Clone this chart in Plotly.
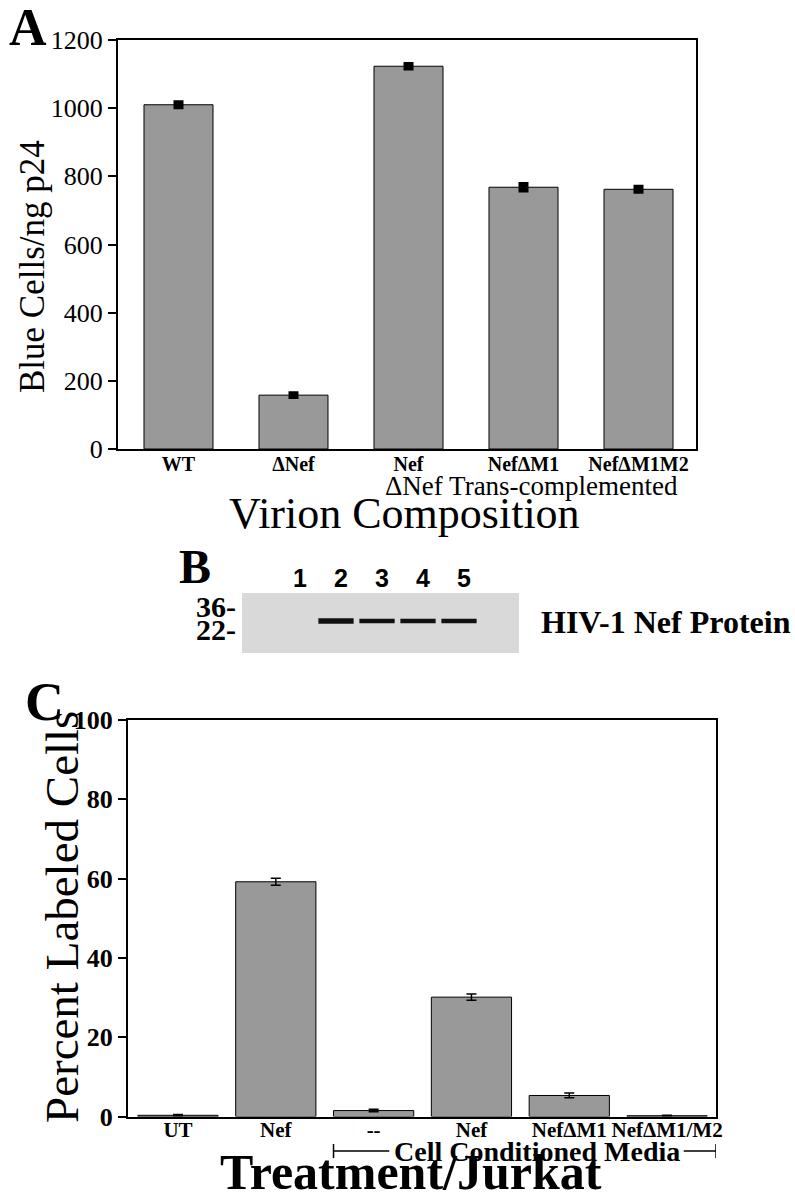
import plotly.graph_objects as go

W, H = 795, 1199
SERIF = "Liberation Serif"
SANS = "Liberation Sans"

# ---- Panel A data ----
a_labels = ["WT", "ΔNef", "Nef", "NefΔM1", "NefΔM1M2"]
a_values = [1010, 158, 1123, 768, 762]
a_errors = [6, 4, 5, 8, 6]
a_yticks = [0, 200, 400, 600, 800, 1000, 1200]

# ---- Panel B data (western blot) ----
b_lanes = [1, 2, 3, 4, 5]
b_lane_labels = ["1", "2", "3", "4", "5"]
b_band_present = [0, 1, 1, 1, 1]
b_band_kda = [27.5, 27.5, 27.5, 27.5, 27.5]
b_band_width = [5, 5.5, 4.5, 4.5, 4.5]
b_markers = [36, 22]
b_marker_labels = ["36-", "22-"]

# ---- Panel C data ----
c_labels = ["UT", "Nef", "--", "Nef", "NefΔM1", "NefΔM1/M2"]
c_values = [0.3, 59.2, 1.5, 30.1, 5.3, 0.2]
c_errors = [0.2, 0.9, 0.3, 0.8, 0.6, 0.1]
c_yticks = [0, 20, 40, 60, 80, 100]


def px(x):
    return x / W


def py(y):
    return 1 - y / H


fig = go.Figure()

# Panel A bars
fig.add_trace(go.Bar(
    x=list(range(len(a_labels))), y=a_values, width=0.6,
    marker=dict(color="#999999", line=dict(color="black", width=1)),
    error_y=dict(type="data", array=a_errors, visible=True, color="black",
                 thickness=5, width=5),
    xaxis="x", yaxis="y", showlegend=False,
))

# Panel C bars
fig.add_trace(go.Bar(
    x=list(range(len(c_labels))), y=c_values, width=0.82,
    marker=dict(color="#999999", line=dict(color="black", width=1)),
    error_y=dict(type="data", array=c_errors, visible=True, color="black",
                 thickness=1.5, width=5),
    xaxis="x2", yaxis="y2", showlegend=False,
))

# Panel B bands
for lane, present, kda, bw in zip(b_lanes, b_band_present, b_band_kda, b_band_width):
    if present:
        fig.add_trace(go.Scatter(
            x=[lane - 0.43, lane + 0.43], y=[kda, kda], mode="lines",
            line=dict(color="#111111", width=bw),
            xaxis="x3", yaxis="y3", showlegend=False, hoverinfo="skip",
        ))

axis_font = dict(family=SERIF, size=26, color="black")
common = dict(showgrid=False, zeroline=False, fixedrange=True, automargin=False)

fig.update_layout(
    template="none",
    width=W, height=H,
    margin=dict(l=0, r=0, t=0, b=0, pad=0),
    paper_bgcolor="white", plot_bgcolor="white",
    bargap=0, showlegend=False,
    xaxis=dict(
        domain=[px(118), px(696)], range=[-0.526, 4.5], anchor="y",
        tickvals=list(range(len(a_labels))), ticktext=a_labels,
        tickfont=dict(family=SERIF, size=20, color="black", weight="bold"),
        showline=True, linecolor="black", linewidth=2, mirror=True,
        ticks="", tickangle=0, ticklabelstandoff=-4, **common,
    ),
    yaxis=dict(
        domain=[py(449), py(40)], range=[0, 1200], anchor="x",
        tickvals=a_yticks, tickfont=axis_font,
        showline=True, linecolor="black", linewidth=2, mirror=True,
        ticks="outside", ticklen=8, tickwidth=2, tickcolor="black",
        **common,
    ),
    xaxis2=dict(
        domain=[px(128), px(716)], range=[-0.511, 5.5], anchor="y2",
        tickvals=list(range(len(c_labels))), ticktext=c_labels,
        tickfont=dict(family=SERIF, size=21, color="black", weight="bold"),
        showline=True, linecolor="black", linewidth=2, mirror=True,
        ticks="", tickangle=0, ticklabelstandoff=-7, **common,
    ),
    yaxis2=dict(
        domain=[py(1116.5), py(720)], range=[0, 100], anchor="x2",
        tickvals=c_yticks,
        tickfont=dict(family=SERIF, size=26, color="black", weight="bold"),
        showline=True, linecolor="black", linewidth=2, mirror=True,
        ticks="outside", ticklen=8, tickwidth=2, tickcolor="black",
        **common,
    ),
    xaxis3=dict(
        domain=[px(242), px(519)], range=[-0.293, 6.463],
        side="top", tickvals=b_lanes, ticktext=b_lane_labels,
        tickfont=dict(family=SANS, size=25, color="black", weight="bold"),
        ticks="", showline=False, tickangle=0,
        ticklabelstandoff=0, ticklabelshift=5, anchor="y3", **common,
    ),
    yaxis3=dict(
        domain=[py(653), py(593)], range=[8, 44.5],
        tickvals=b_markers, ticktext=b_marker_labels,
        tickfont=dict(family=SERIF, size=30, color="black", weight="bold"),
        ticks="", showline=False,
        ticklabelstandoff=5, anchor="x3", **common,
    ),
)

# blot background
fig.add_shape(type="rect", xref="x3 domain", yref="y3 domain",
              x0=0, x1=1, y0=0, y1=1, fillcolor="#d9d9d9",
              line=dict(width=0), layer="below")

# bracket for cell conditioned media (panel C): two segments around the text
br_y = py(1151)
for x0, x1 in ((1.59, 2.16), (5.17, 5.5)):
    fig.add_shape(type="line", xref="x2", yref="paper", x0=x0, x1=x1,
                  y0=br_y, y1=br_y, line=dict(color="black", width=1.5))
for xb in (1.59, 5.5):
    fig.add_shape(type="line", xref="x2", yref="paper", x0=xb, x1=xb,
                  y0=py(1144), y1=py(1158), line=dict(color="black", width=1.5))

ann = [
    dict(text="<b>A</b>", x=px(28), y=py(28), size=52),
    dict(text="ΔNef Trans-complemented", x=px(531), y=py(486), size=27),
    dict(text="Virion Composition", x=px(404), y=py(513), size=44),
    dict(text="Blue Cells/ng p24", x=px(33), y=py(267), size=35, angle=-90),
    dict(text="<b>B</b>", x=px(195), y=py(566), size=48),
    dict(text="<b>HIV-1 Nef Protein</b>", x=px(540), y=py(622), size=32, xanchor="left"),
    dict(text="<b>C</b>", x=px(44), y=py(702), size=54),
    dict(text="Percent Labeled Cells", x=px(62), y=py(917), size=47, angle=-90),
    dict(text="<b>Cell Conditioned Media</b>", x=px(537), y=py(1151), size=28),
    dict(text="<b>Treatment/Jurkat</b>", x=px(411), y=py(1172), size=50),
]
for a in ann:
    fig.add_annotation(
        text=a["text"], x=a["x"], y=a["y"], xref="paper", yref="paper",
        xanchor=a.get("xanchor", "center"), yanchor="middle",
        textangle=a.get("angle", 0), showarrow=False,
        font=dict(family=SERIF, size=a["size"], color="black"),
        borderpad=0,
    )

fig.write_html(
    "out.html",
    config={"displayModeBar": False, "staticPlot": True},
    post_script="document.body.style.margin='0';document.body.style.padding='0';"
                "document.body.style.overflow='hidden';",
)
